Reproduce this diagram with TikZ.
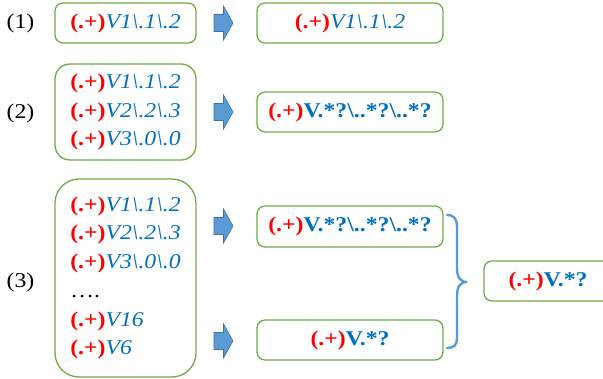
\documentclass[tikz,border=0pt]{standalone}
\usepackage{fontspec}
\setmainfont{Liberation Serif}[FakeStretch=1.13]
\definecolor{boxgreen}{HTML}{70AD47}
\definecolor{arrowblue}{HTML}{5B9BD5}
\definecolor{arrowedge}{HTML}{41719C}
\definecolor{txtblue}{HTML}{0070C0}
\definecolor{txtred}{HTML}{FF0000}
\newcommand{\rgrp}{\textcolor{txtred}{\textbf{(.+)}}}
\newcommand{\bit}[1]{\textcolor{txtblue}{\textit{#1}}}
\newcommand{\bbf}[1]{\textcolor{txtblue}{\textbf{#1}}}
\newcommand{\bsl}{\textbackslash}
\tikzset{
  gbox/.style={draw=boxgreen, line width=1.3pt, fill=white, inner sep=0pt,
    font=\fontsize{21}{28.7}\selectfont, align=left},
  lbl/.style={inner sep=0pt, font=\fontsize{21}{24}\selectfont},
  blockarrow/.pic={\filldraw[fill=arrowblue,draw=arrowedge,line width=0.6pt]
    (-9.5,-8.5) -- (0,-8.5) -- (0,-17) -- (9.5,0) -- (0,17) -- (0,8.5) -- (-9.5,8.5) -- cycle;},
  bracestyle/.style={draw=arrowblue, line width=2.4pt, line cap=round}
}
\begin{document}
\begin{tikzpicture}[x=1pt,y=-1pt]
\useasboundingbox (0,0) rectangle (603,379);
\clip (0,0) rectangle (603,379);
% labels
\node[lbl] (l1) at (20.5,23) {(1)};
\node[lbl] (l2) at (20.5,113) {(2)};
\node[lbl] (l3) at (20.5,282) {(3)};
% left boxes
\node[gbox, rounded corners=8pt, minimum width=141pt, minimum height=40pt] (b1) at (125.5,23)
  {\rgrp\bit{V1\bsl.1\bsl.2}};
\node[gbox, rounded corners=15pt, minimum width=141pt, minimum height=96pt] (b2) at (125.5,112)
  {\rgrp\bit{V1\bsl.1\bsl.2}\\ \rgrp\bit{V2\bsl.2\bsl.3}\\ \rgrp\bit{V3\bsl.0\bsl.0}};
\node[gbox, rounded corners=24pt, minimum width=141pt, minimum height=198pt] (b3) at (125.5,278)
  {\rgrp\bit{V1\bsl.1\bsl.2}\\ \rgrp\bit{V2\bsl.2\bsl.3}\\ \rgrp\bit{V3\bsl.0\bsl.0}\\ ….\\ \rgrp\bit{V16}\\ \rgrp\bit{V6}};
% arrows
\pic at (223.5,23) {blockarrow};
\pic at (223.5,112) {blockarrow};
\pic at (223.5,226) {blockarrow};
\pic at (223.5,341) {blockarrow};
% right boxes
\node[gbox, rounded corners=8pt, minimum width=186pt, minimum height=40pt] (r1) at (350,23)
  {\rgrp\bit{V1\bsl.1\bsl.2}};
\node[gbox, rounded corners=8pt, minimum width=186pt, minimum height=40pt] (r2) at (350,112)
  {\rgrp\bbf{V.*?\bsl..*?\bsl..*?}};
\node[gbox, rounded corners=8pt, minimum width=186pt, minimum height=41pt] (r3a) at (350,226.5)
  {\rgrp\bbf{V.*?\bsl..*?\bsl..*?}};
\node[gbox, rounded corners=8pt, minimum width=186pt, minimum height=40pt] (r3b) at (350,340)
  {\rgrp\bbf{V.*?}};
% brace
\coordinate (bt) at (447,215);
\coordinate (bm) at (467,282);
\coordinate (bb) at (447,348);
\draw[bracestyle] (bt) .. controls (454,215) and (457,219) .. (457,227) -- (457,268)
  .. controls (457,277) and (460,282) .. (bm)
  .. controls (460,282) and (457,287) .. (457,296) -- (457,338)
  .. controls (457,345) and (454,348) .. (bb);
% final box
\node[gbox, rounded corners=8pt, minimum width=128pt, minimum height=40pt] (fin) at (548,281)
  {\rgrp\bbf{V.*?}};
\end{tikzpicture}
\end{document}
